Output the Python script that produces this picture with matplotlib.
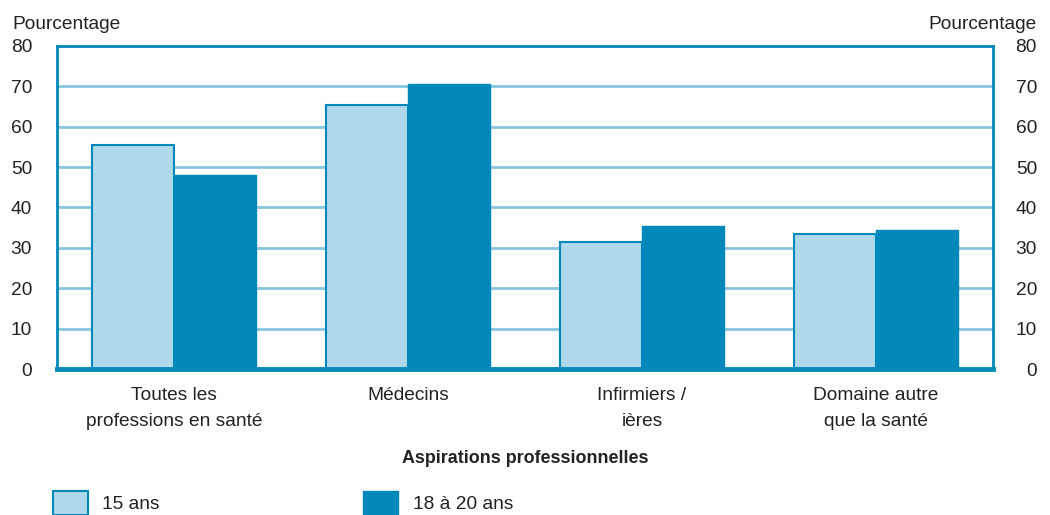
import matplotlib
matplotlib.use("Agg")
import matplotlib.pyplot as plt
import numpy as np
import matplotlib.transforms as mtrans

categories = ["Toutes les\nprofessions en santé", "Médecins", "Infirmiers /\nières", "Domaine autre\nque la santé"]
series_names = ["15 ans", "18 à 20 ans"]
vals_15 = [55.5, 65.5, 31.5, 33.5]
vals_18 = [48.0, 70.7, 35.5, 34.5]
yticks = [0, 10, 20, 30, 40, 50, 60, 70, 80]

LIGHT = "#b0d8eb"
DARK = "#0088bb"
GRID = "#86c6e0"
TXT = "#222222"

plt.rcParams['font.family'] = ['Liberation Sans', 'DejaVu Sans']
FS = 13.8

fig = plt.figure(figsize=(10.5, 5.15), dpi=100)
ax = fig.add_axes([57/1050, 1-369/515, (993-57)/1050, (369-46)/515])

x = np.arange(len(categories))
w = 0.35
ax.bar(x - w/2, vals_15, w, color=LIGHT, edgecolor=DARK, linewidth=1.5, label=series_names[0], zorder=3)
ax.bar(x + w/2, vals_18, w, color=DARK, edgecolor=DARK, linewidth=1.0, label=series_names[1], zorder=3)

ax.set_xlim(-0.5, len(categories) - 0.5)
ax.set_ylim(0, 80)
ax.set_yticks(yticks)
for yv in yticks[1:-1]:
    ax.axhline(yv, color=GRID, linewidth=2, zorder=1)

for s in ['left', 'right', 'top']:
    ax.spines[s].set_color(DARK)
    ax.spines[s].set_linewidth(2)
ax.spines['bottom'].set_color(DARK)
ax.spines['bottom'].set_linewidth(3.5)
ax.spines['bottom'].set_zorder(5)

ax.tick_params(axis='y', which='both', length=0, labelsize=FS, labelcolor=TXT,
               left=True, right=True, labelleft=True, labelright=True)
ax.set_xticks(x)
ax.set_xticklabels(categories, fontsize=FS, color=TXT, linespacing=1.7)
ax.tick_params(axis='x', length=0, pad=13)

fig.canvas.draw()
for t in ax.yaxis.get_major_ticks():
    t.label2.set_horizontalalignment('right')
    t.label2.set_fontsize(FS)
    t.label2.set_color(TXT)
ax.yaxis.set_tick_params(which='major', pad=18)
fig.canvas.draw()
off = mtrans.ScaledTranslation(19/100, 0, fig.dpi_scale_trans)
for t in ax.yaxis.get_major_ticks():
    t.label2.set_transform(t.label2.get_transform() + off)

fig.text(12/1050, 1-29/515, "Pourcentage", fontsize=FS, color=TXT, ha='left', va='baseline')
fig.text(1037/1050, 1-29/515, "Pourcentage", fontsize=FS, color=TXT, ha='right', va='baseline')

fig.text(525/1050, 1-463/515, "Aspirations professionnelles", fontsize=12.9, fontweight='bold',
         color=TXT, ha='center', va='baseline')

leg = fig.legend(loc='lower left', bbox_to_anchor=(45/1050, -8/515), ncol=2, frameon=False,
                 fontsize=FS, handlelength=1.82, handleheight=1.6, handletextpad=0.78,
                 columnspacing=10.6, borderaxespad=0)
for txt in leg.get_texts():
    txt.set_color(TXT)

fig.savefig("out.png", dpi=100)
